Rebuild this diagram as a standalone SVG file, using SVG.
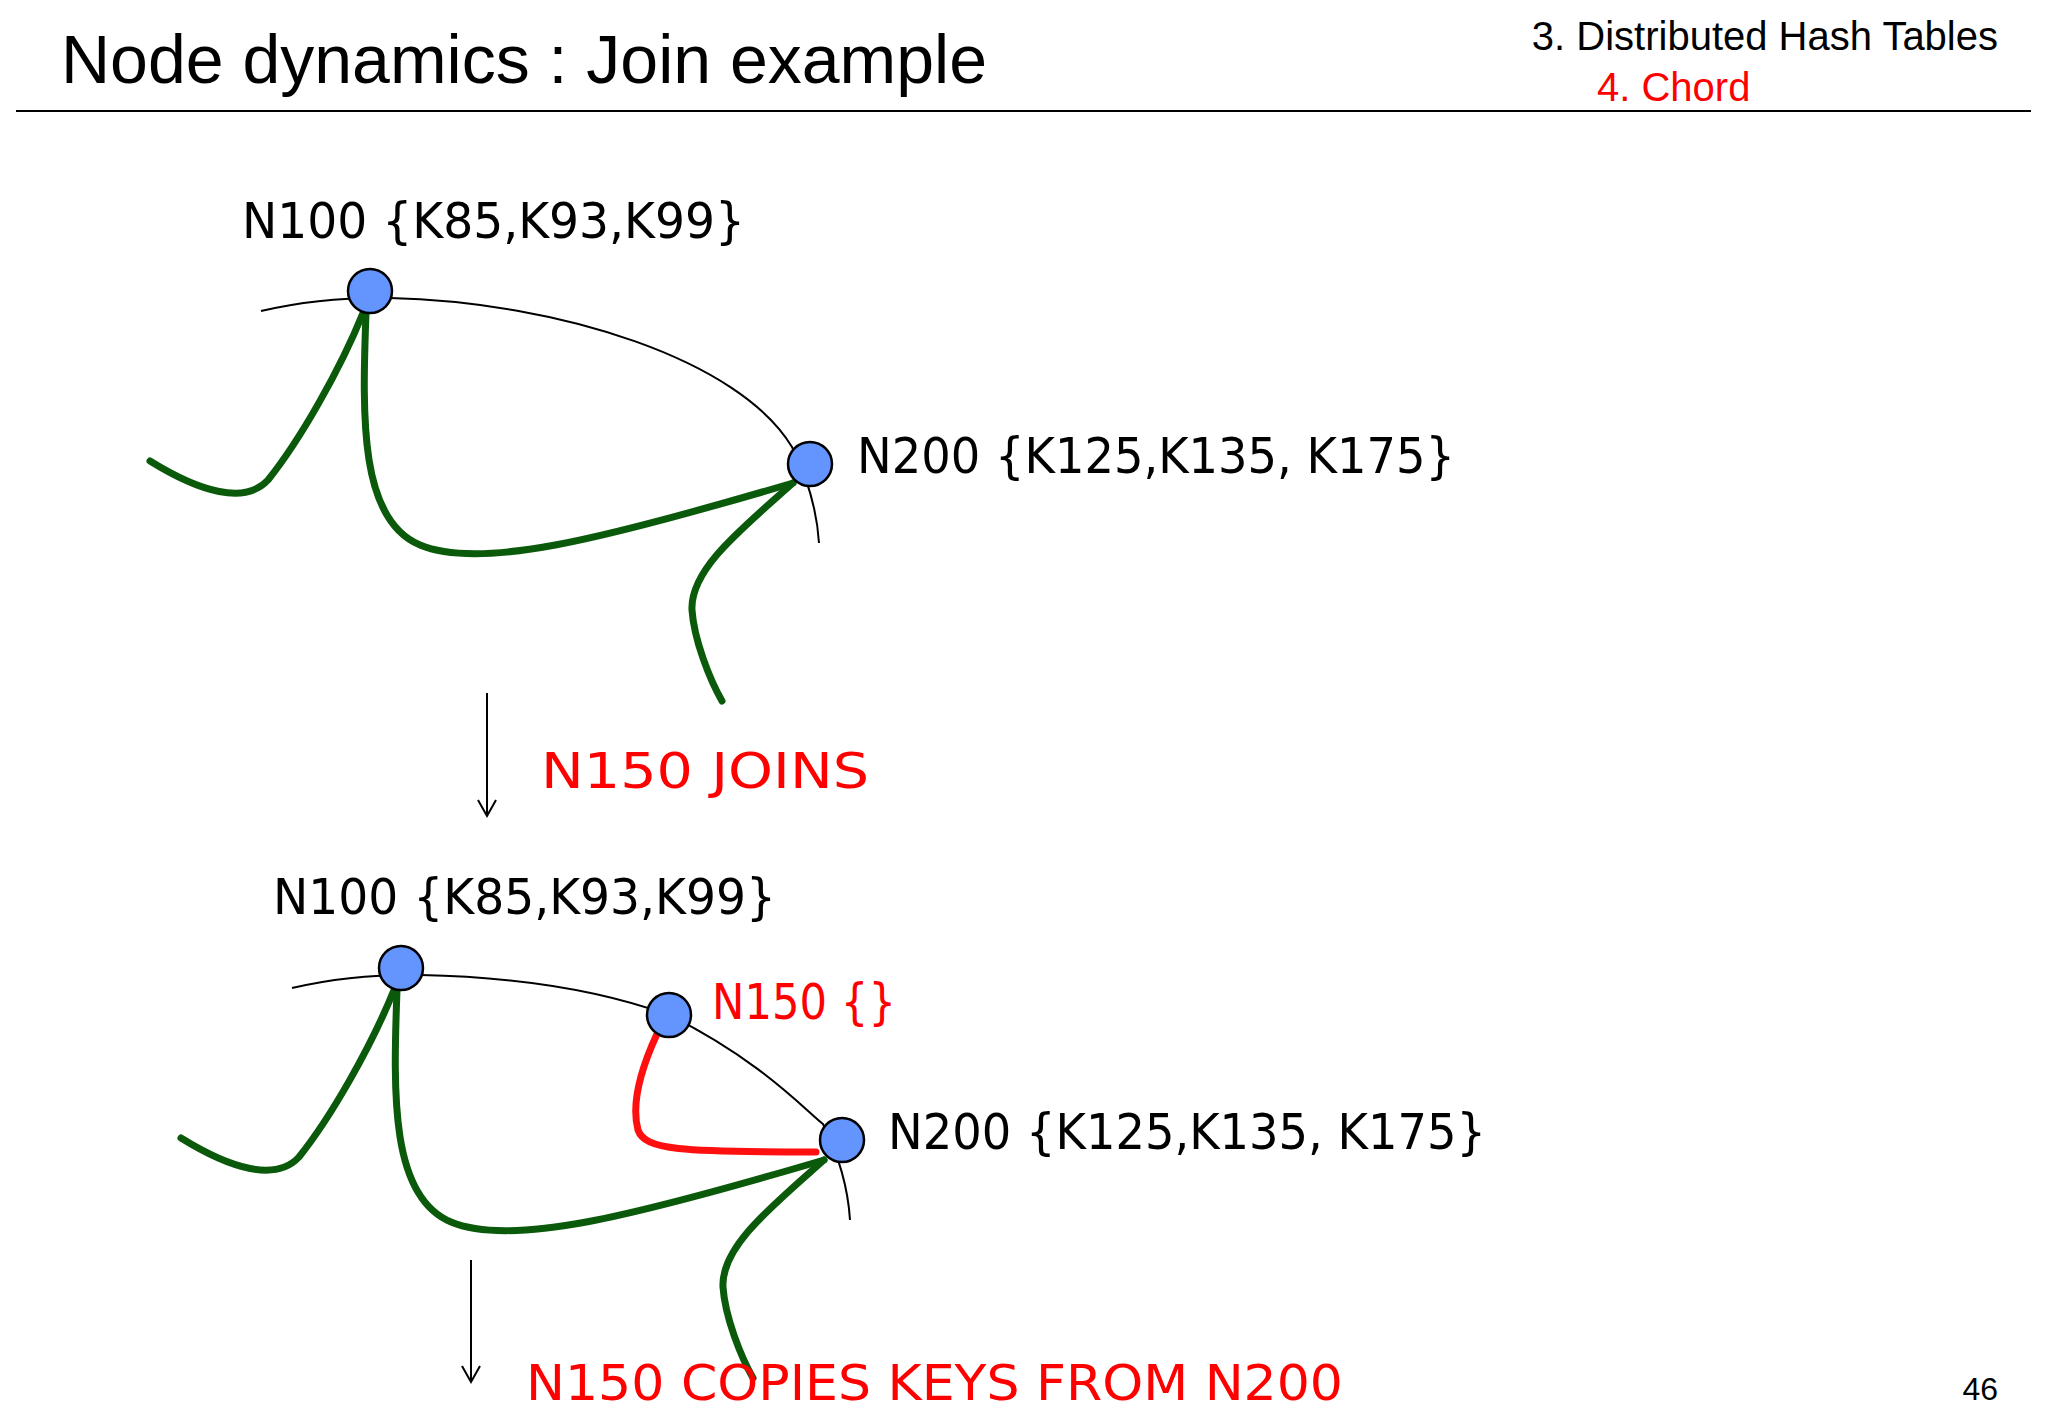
<svg xmlns="http://www.w3.org/2000/svg" width="2048" height="1418" viewBox="0 0 2048 1418">
<style>
.h{font-family:"Liberation Sans",Arial,sans-serif}
.t{font-family:"DejaVu Sans","Liberation Sans",sans-serif;font-size:50px}
.k{fill:#000}.r{fill:#ff0000}
.ring{fill:none;stroke:#000;stroke-width:2}
.g{fill:none;stroke:#0b5a0b;stroke-width:7;stroke-linecap:round}
.red{fill:none;stroke:#ff1010;stroke-width:7;stroke-linecap:round}
.nd{fill:#6495ff;stroke:#000;stroke-width:2.5}
.ar{fill:none;stroke:#000;stroke-width:2}
</style>
<rect width="2048" height="1418" fill="#fff"/>
<text class="h" x="61" y="83" font-size="68">Node dynamics : Join example</text>
<text class="h" x="1998" y="50" font-size="40" text-anchor="end">3. Distributed Hash Tables</text>
<text class="h r" x="1597" y="101" font-size="40">4. Chord</text>
<line x1="16" y1="111" x2="2031" y2="111" stroke="#000" stroke-width="2"/>
<g id="connectors">
<path class="ring" d="M261,311 Q320,297 390,298 C560,302 740,360 792,447 Q816,495 819,543"/>
<path class="g" d="M150,461 C200,492 245,505 268,480 C300,440 340,370 363,313"/>
<path class="g" d="M366,313 C362,420 360,520 420,545 C480,570 600,540 793,483"/>
<path class="g" d="M793,483 C740,530 690,570 692,610 C694,640 710,680 722,701"/>
<path class="ring" d="M292,988 Q351,974 421,975 C520,977 600,990 669,1015 C760,1060 805,1110 823,1124 Q847,1172 850,1220"/>
<path class="g" d="M181,1138 C231,1169 276,1182 299,1157 C331,1117 371,1047 394,990"/>
<path class="g" d="M397,990 C393,1097 391,1197 451,1222 C511,1247 631,1217 824,1160"/>
<path class="g" d="M824,1160 C771,1207 721,1247 723,1287 C725,1317 741,1357 753,1378"/>
<path class="red" d="M657,1034 C645,1060 630,1100 638,1130 C645,1150 680,1152 816,1152"/>
<line class="ar" x1="487" y1="693" x2="487" y2="816"/>
<path class="ar" d="M478,800 L487,816 L496,800"/>
<line class="ar" x1="471" y1="1260" x2="471" y2="1382"/>
<path class="ar" d="M462,1366 L471,1382 L480,1366"/>
</g>
<g id="n100a"><circle class="nd" cx="370" cy="291" r="22"/><text class="t k" x="242" y="238" textLength="503" lengthAdjust="spacingAndGlyphs">N100 {K85,K93,K99}</text></g>
<g id="n200a"><circle class="nd" cx="810" cy="464" r="22"/><text class="t k" x="857" y="473" textLength="598" lengthAdjust="spacingAndGlyphs">N200 {K125,K135, K175}</text></g>
<g id="joins"><text class="t r" x="541" y="788" textLength="328" lengthAdjust="spacingAndGlyphs">N150 JOINS</text></g>
<g id="n100b"><circle class="nd" cx="401" cy="968" r="22"/><text class="t k" x="273" y="914" textLength="503" lengthAdjust="spacingAndGlyphs">N100 {K85,K93,K99}</text></g>
<g id="n150"><circle class="nd" cx="669" cy="1015" r="22"/><text class="t r" x="712" y="1019" textLength="184" lengthAdjust="spacingAndGlyphs">N150 {}</text></g>
<g id="n200b"><circle class="nd" cx="842" cy="1140" r="22"/><text class="t k" x="888" y="1149" textLength="598" lengthAdjust="spacingAndGlyphs">N200 {K125,K135, K175}</text></g>
<g id="copies"><text class="t r" x="526" y="1400" textLength="817" lengthAdjust="spacingAndGlyphs">N150 COPIES KEYS FROM N200</text></g>
<text class="h" x="1998" y="1400" font-size="32" text-anchor="end">46</text>
</svg>
